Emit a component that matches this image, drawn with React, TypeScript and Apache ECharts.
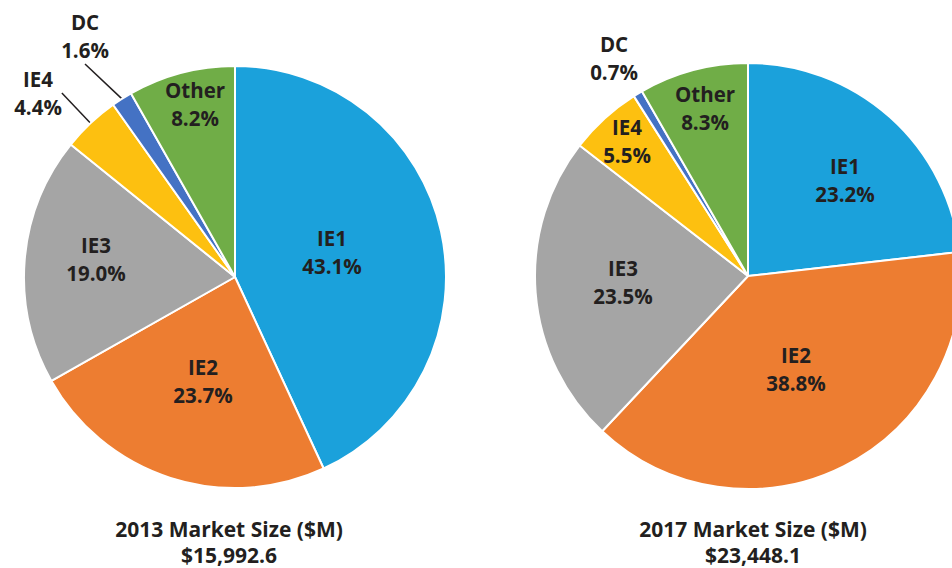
import React, { useEffect, useRef } from "react";
import * as echarts from "echarts";

const categories = ["IE1", "IE2", "IE3", "IE4", "DC", "Other"];
const share2013 = [43.1, 23.7, 19.0, 4.4, 1.6, 8.2];
const share2017 = [23.2, 38.8, 23.5, 5.5, 0.7, 8.3];
const titleLines = ["2013 Market Size ($M)", "2017 Market Size ($M)"];
const totalLines = ["$15,992.6", "$23,448.1"];

const COLORS = ["#1BA1DB", "#ED7D31", "#A5A5A5", "#FDC010", "#4472C4", "#70AD47"];
const TEXT = "#231F20";
const FONT = "'Open Sans', 'Noto Sans', sans-serif";

// label anchor positions (px) per pie, in category order
const LABEL_POS = [
  [[332, 252], [203, 381], [96, 259], [38, 93], [85, 36], [195, 104]],
  [[845, 180], [796, 369], [623, 282], [627, 141], [614, 58], [705, 108]],
];
// which labels sit outside the pie with a leader line
const OUTSIDE = [
  [false, false, false, true, true, false],
  [false, false, false, false, true, false],
];
const LEADER = [
  [false, false, false, true, true, false],
  [false, false, false, false, false, false],
];

const PIES = [
  { center: [235, 277], radius: 211, values: share2013, titleX: 229 },
  { center: [748, 276], radius: 213, values: share2017, titleX: 753 },
];

export default function App() {
  const ref = useRef<HTMLDivElement>(null);
  useEffect(() => {
    if (!ref.current) return;
    const chart = echarts.init(ref.current, undefined, { renderer: "svg" });
    const series = PIES.map((p, si) => ({
      type: "pie",
      center: p.center,
      radius: p.radius,
      startAngle: 90,
      clockwise: true,
      avoidLabelOverlap: false,
      itemStyle: { borderColor: "#ffffff", borderWidth: 2 },
      label: {
        show: true,
        color: TEXT,
        fontFamily: FONT,
        fontWeight: "bold",
        fontSize: 20.5,
        lineHeight: 28,
        align: "center",
        formatter: (d: any) => `${d.name}\n${Number(d.value).toFixed(1)}%`,
      },
      labelLine: { show: false },
      labelLayout: (params: any) => {
        const pos = LABEL_POS[si][params.dataIndex];
        return { x: pos[0], y: pos[1], align: "center", verticalAlign: "middle" };
      },
      emphasis: { disabled: true },
      data: categories.map((c, i) => ({
        name: c,
        value: p.values[i],
        itemStyle: { color: COLORS[i] },
        label: { position: OUTSIDE[si][i] ? "outside" : "inside" },
        labelLine: {
          show: LEADER[si][i],
          length: 10,
          length2: 0,
          lineStyle: { color: TEXT, width: 1.5 },
        },
      })),
    }));
    chart.setOption({
      animation: false,
      color: COLORS,
      title: PIES.map((p, i) => ({
        text: `${titleLines[i]}\n${totalLines[i]}`,
        left: p.titleX,
        top: 516,
        padding: 0,
        textAlign: "center",
        textStyle: {
          color: TEXT,
          fontFamily: FONT,
          fontWeight: "bold",
          fontSize: 21,
          lineHeight: 26,
        },
      })),
      series,
    });
    return () => chart.dispose();
  }, []);
  return (
    <div
      ref={ref}
      style={{ position: "fixed", left: 0, top: 0, width: 952, height: 568, background: "#fff" }}
    />
  );
}
